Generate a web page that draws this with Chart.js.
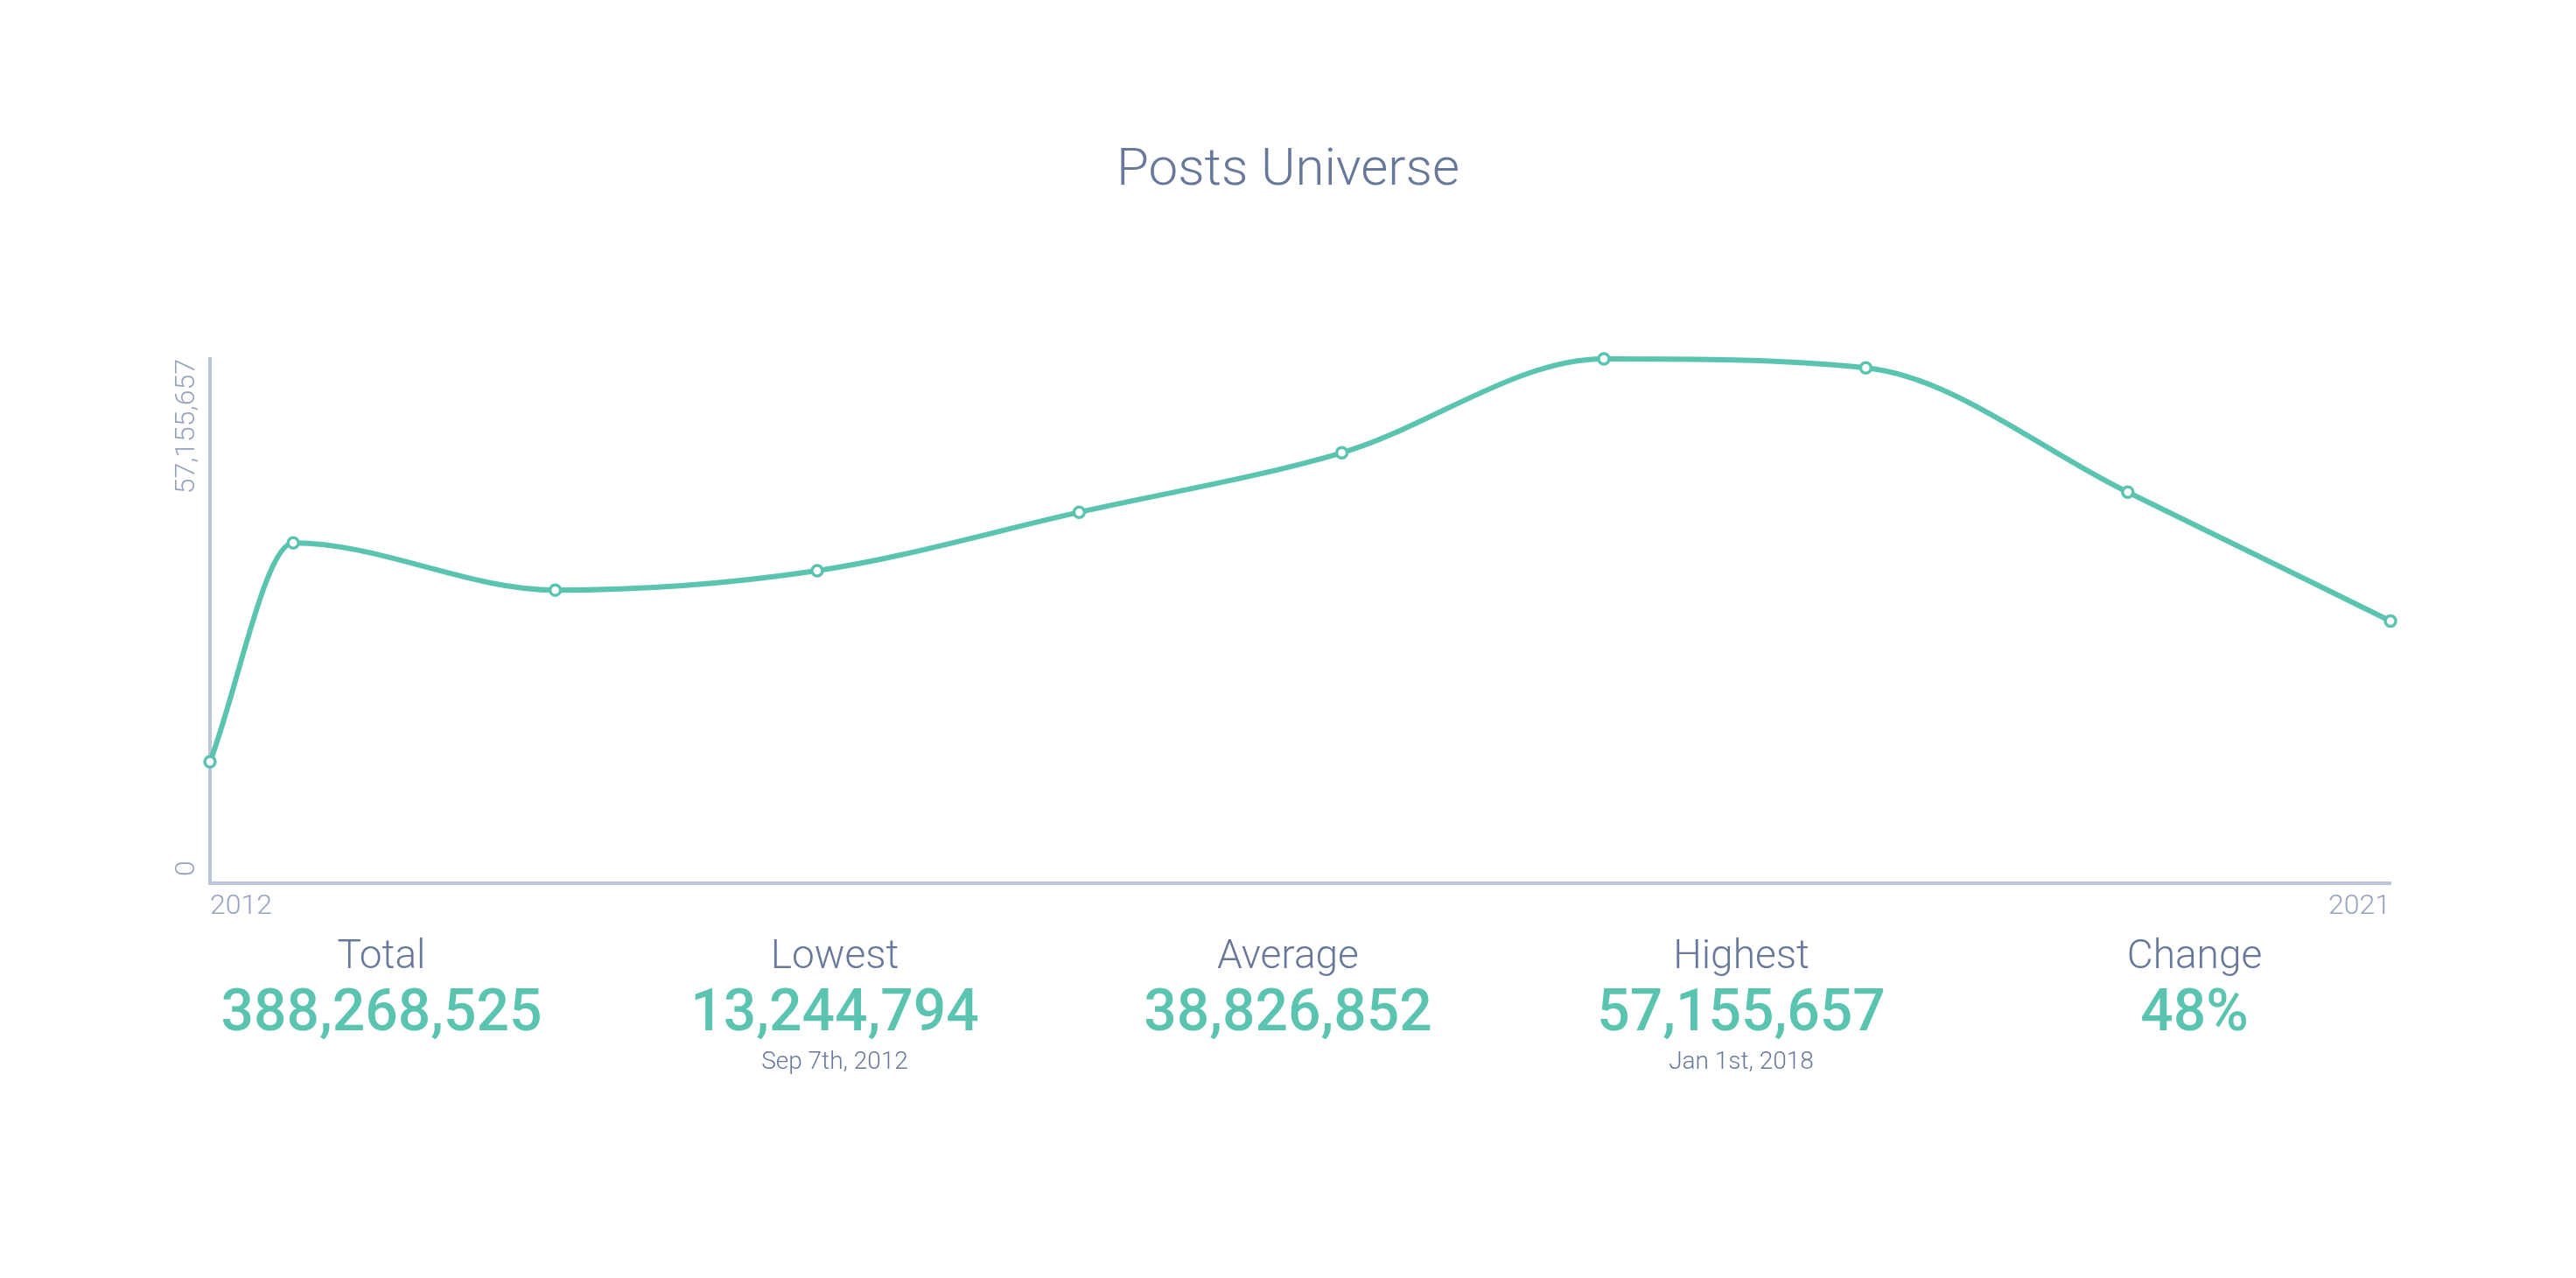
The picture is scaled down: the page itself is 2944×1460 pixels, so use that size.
<!DOCTYPE html>
<html>
<head>
<meta charset="utf-8">
<script src="https://cdn.jsdelivr.net/npm/chart.js@4.4.1/dist/chart.umd.min.js"></script>
<style>
html,body{margin:0;padding:0;background:#ffffff;}
body{width:2944px;height:1460px;position:relative;overflow:hidden;font-family:Roboto,'Noto Sans',sans-serif;}
#title{position:absolute;left:0;top:161px;width:2944px;text-align:center;font-size:60px;font-weight:300;line-height:1;color:#68789a;}
#wrap{position:absolute;left:0;top:0;width:2944px;height:1060px;}
#stats{position:absolute;left:177px;top:0;width:2590px;height:1460px;display:flex;}
.col{position:relative;width:518px;height:100%;}
.col div{position:absolute;left:0;width:100%;text-align:center;line-height:1;white-space:nowrap;}
.lab{top:1067px;font-size:46px;font-weight:300;color:#68789a;}
.num{top:1122px;font-size:66px;font-weight:500;color:#5bc4b1;}
.sub{top:1198px;font-size:28px;font-weight:300;color:#68789a;}
</style>
</head>
<body>
<div id="title">Posts Universe</div>
<div id="wrap"><canvas id="c"></canvas></div>
<div id="stats"></div>
<script>
// ---- data ----
const dates = ['2012-09-07','2013-01-01','2014-01-01','2015-01-01','2016-01-01','2017-01-01','2018-01-01','2019-01-01','2020-01-01','2021-01-01'];
const posts = [13244794, 37104512, 31952368, 34071925, 40438671, 46921354, 57155657, 56178430, 42627183, 28573631];
const xTickLabels = ['2012', '2021'];
const statLabels = ['Total', 'Lowest', 'Average', 'Highest', 'Change'];
const statNotes = ['', 'Sep 7th, 2012', '', 'Jan 1st, 2018', ''];
const changeText = '48%';

const teal = '#5bc4b1';
const axisColor = '#bec5d6';
const tickColor = '#97a3bd';
const tickFont = {family: 'Roboto', size: 32, weight: '300'};

const xs = dates.map(d => Date.parse(d + 'T00:00:00Z'));
const maxVal = Math.max(...posts);
const minVal = Math.min(...posts);
const total = posts.reduce((a, b) => a + b, 0);
const fmt = n => n.toLocaleString('en-US');

new Chart(document.getElementById('c'), {
  type: 'line',
  data: {
    datasets: [{
      data: xs.map((x, i) => ({x: x, y: posts[i]})),
      borderColor: teal,
      borderWidth: 6,
      cubicInterpolationMode: 'monotone',
      pointRadius: 6,
      pointBorderWidth: 3.5,
      pointBackgroundColor: '#ffffff',
      pointBorderColor: teal,
      fill: false,
      clip: false,
      yAxisID: 'y'
    }]
  },
  options: {
    responsive: true,
    maintainAspectRatio: false,
    animation: false,
    layout: {padding: {top: 410, left: 0, right: 212, bottom: 11}},
    plugins: {legend: {display: false}, tooltip: {enabled: false}, title: {display: false}},
    scales: {
      x: {
        type: 'linear',
        min: xs[0],
        max: xs[xs.length - 1],
        grid: {display: false, drawTicks: false},
        border: {display: true, color: axisColor, width: 4},
        ticks: {align: 'inner', maxRotation: 0, minRotation: 0, autoSkip: false, padding: 8, color: tickColor, font: tickFont,
                callback: (v, i) => xTickLabels[i]},
        afterBuildTicks: s => { s.ticks = [{value: s.min}, {value: s.max}]; },
        afterFit: s => { s.height = 40; }
      },
      y: {
        type: 'linear',
        position: 'left',
        weight: 0,
        min: 0,
        max: maxVal,
        grid: {display: false, drawTicks: false},
        border: {display: true, color: axisColor, width: 4},
        ticks: {minRotation: 90, maxRotation: 90, padding: 26, color: tickColor, font: tickFont,
                callback: v => fmt(v)},
        afterBuildTicks: s => { s.ticks = [{value: s.max}]; },
        afterFit: s => { s.width = 240; }
      },
      yZero: {
        type: 'linear',
        position: 'left',
        weight: -1,
        min: 0,
        max: maxVal,
        grid: {display: false, drawTicks: false},
        border: {display: false},
        ticks: {mirror: true, minRotation: 90, maxRotation: 90, padding: -26, labelOffset: -8, color: tickColor, font: tickFont,
                callback: v => fmt(v)},
        afterBuildTicks: s => { s.ticks = [{value: 0}]; },
        afterFit: s => { s.width = 0; }
      }
    }
  }
});

// ---- stats row ----
const statValues = [fmt(total), fmt(minVal), fmt(Math.floor(total / posts.length)), fmt(maxVal), changeText];
const stats = document.getElementById('stats');
statLabels.forEach((lab, i) => {
  const col = document.createElement('div');
  col.className = 'col';
  const a = document.createElement('div'); a.className = 'lab'; a.textContent = lab; col.appendChild(a);
  const b = document.createElement('div'); b.className = 'num'; b.textContent = statValues[i]; col.appendChild(b);
  if (statNotes[i]) {
    const c = document.createElement('div'); c.className = 'sub'; c.textContent = statNotes[i]; col.appendChild(c);
  }
  stats.appendChild(col);
});
</script>
</body>
</html>
